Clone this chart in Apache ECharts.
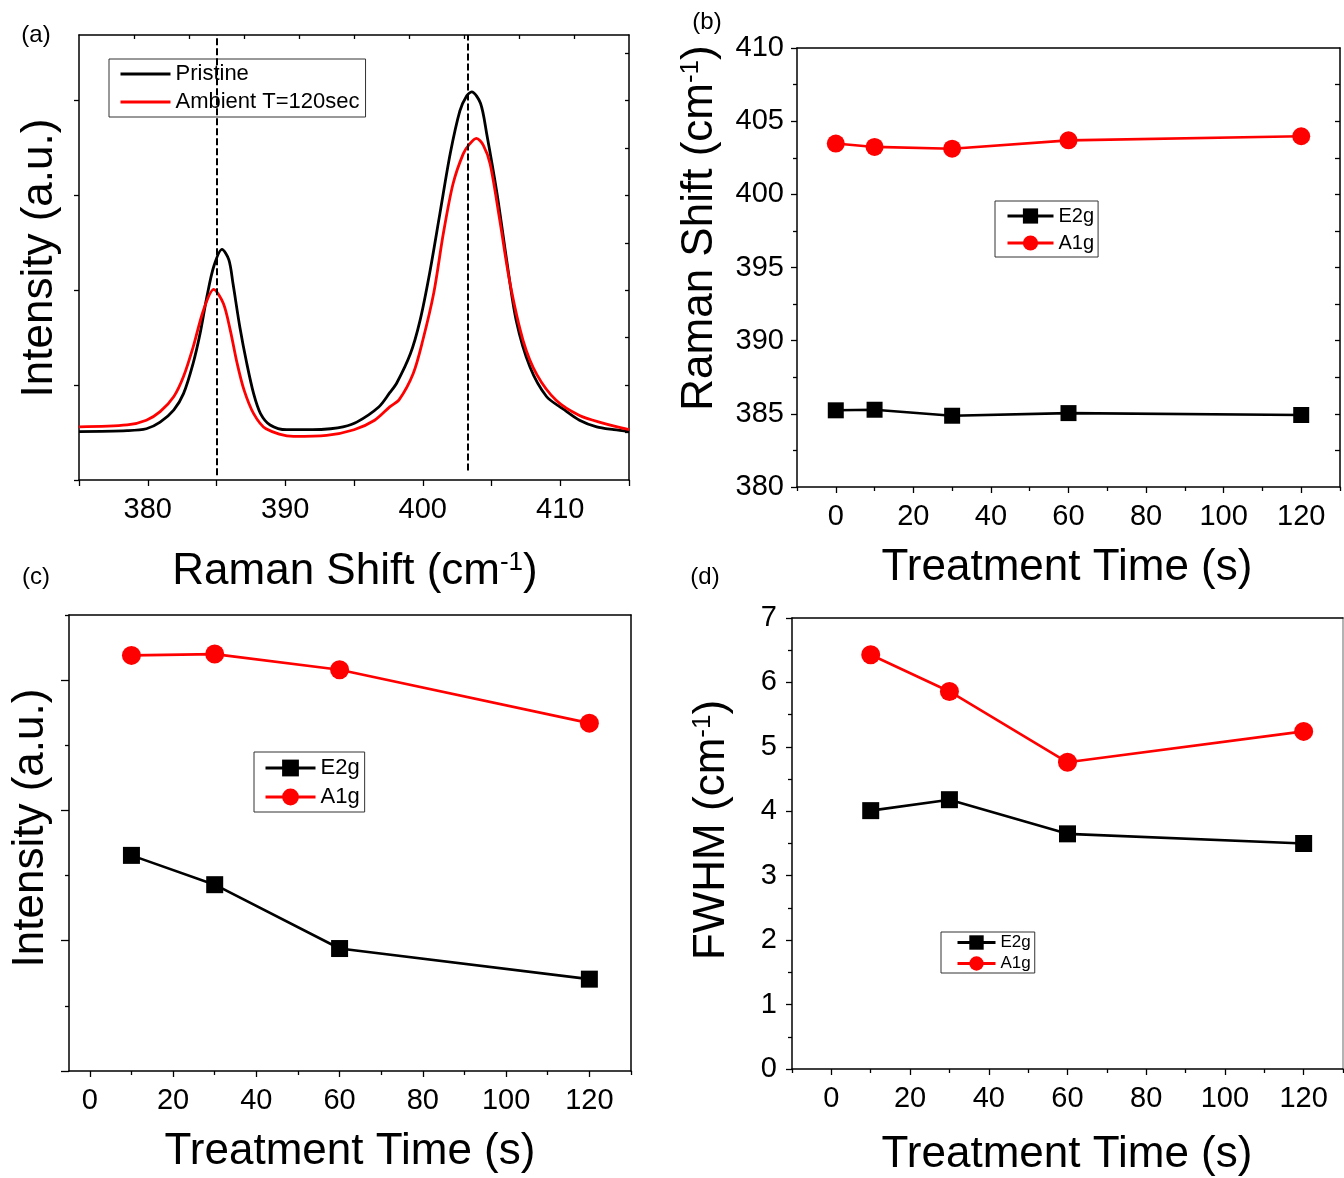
<!DOCTYPE html>
<html><head><meta charset="utf-8">
<script src="https://cdn.jsdelivr.net/npm/echarts@6/dist/echarts.min.js"></script>
<style>html,body{margin:0;padding:0;background:#fff}#c{width:1344px;height:1178px}</style>
</head><body><div id="c"></div><script>
// ---------- Panel (a): Raman spectra ----------
const pristineShift = [375.0,378.5,379.9,380.9,381.9,382.6,383.3,383.8,384.3,384.8,385.4,385.9,386.2,386.7,387.2,387.7,388.2,388.9,390.1,392.0,393.3,394.2,395.2,396.8,397.6,398.1,399.1,399.8,400.5,401.25,402.0,402.7,403.2,403.56,404.2,404.65,405.4,406.1,406.8,407.8,409.0,410.2,411.4,412.65,413.9,415.0];
const pristineInt = [0.51,0.52,0.54,0.61,0.74,0.91,1.23,1.54,1.93,2.25,2.43,2.32,2.07,1.61,1.23,0.91,0.70,0.58,0.53,0.53,0.54,0.56,0.61,0.77,0.92,1.02,1.33,1.68,2.18,2.81,3.44,3.89,4.05,4.09,3.97,3.65,3.02,2.32,1.68,1.19,0.88,0.75,0.63,0.56,0.53,0.51];
const ambientShift = [375.0,378.5,379.9,380.9,381.9,382.6,383.3,384.05,384.8,385.5,386.0,386.5,387.0,387.7,388.6,390.6,393.0,395.0,396.5,397.6,398.3,399.3,400.0,400.8,401.5,402.2,402.95,403.4,403.9,404.4,404.9,405.6,406.35,407.3,408.3,409.7,411.4,413.1,415.0];
const ambientInt = [0.56,0.58,0.63,0.72,0.88,1.09,1.40,1.79,2.01,1.86,1.58,1.23,0.95,0.70,0.54,0.46,0.47,0.53,0.63,0.77,0.85,1.12,1.47,1.97,2.60,3.12,3.44,3.54,3.60,3.53,3.33,2.74,2.07,1.47,1.11,0.84,0.68,0.60,0.53];
const peakLines = [385.0, 403.3];
const peakLineBottom = [0.05, 0.10];
const ramanTicks = [375,380,385,390,395,400,405,410,415];
const ramanLabels = [380,390,400,410];
const ramanTopTicks = [379,383,387,391,395,399,403,407,411];
const intensityTicksA = [0,1,2,3,4];
const intensityRightTicksA = [0.5,1,1.5,2,2.5,3,3.5,4,4.5];

// ---------- Panel (b): Raman shift vs time ----------
const timesB = [0,10,30,60,120];
const shiftE2g = [385.24,385.28,384.87,385.05,384.92];
const shiftA1g = [403.47,403.24,403.12,403.69,403.97];
const shiftTicks = [380,385,390,395,400,405,410];
const shiftMinorTicks = [382.5,387.5,392.5,397.5,402.5,407.5];
const shiftRightTicks = [382.5,385,387.5,390,392.5,395,397.5,400,402.5,405,407.5];

// ---------- Panels (c),(d): intensity and FWHM vs time ----------
const timesCD = [10,30,60,120];
const intensityE2g = [1.655,1.43,0.94,0.705];
const intensityA1g = [3.19,3.20,3.08,2.67];
const fwhmE2g = [4.01,4.18,3.65,3.50];
const fwhmA1g = [6.43,5.86,4.76,5.24];
const intensityTicksC = [0,1,2,3];
const intensityMinorC = [0.5,1.5,2.5,3.5];
const fwhmTicks = [0,1,2,3,4,5,6,7];
const fwhmMinor = [0.5,1.5,2.5,3.5,4.5,5.5,6.5];

const timeTicks = [0,20,40,60,80,100,120];
const timeMinorBD = [-10,10,30,50,70,90,110,130];
const timeMinorC = [10,30,50,70,90,110,130];

const FONT = "'Liberation Sans', Arial, Helvetica, sans-serif";
const chart = echarts.init(document.getElementById('c'), null, {renderer: 'canvas'});

function ax(o) {
  return {
    type: 'value', gridIndex: o.grid, min: o.min, max: o.max, position: o.position,
    axisLine: {show: o.line !== false, onZero: false, lineStyle: {color: o.lineColor || '#000', width: 1.5}},
    axisTick: {show: !!o.ticks, inside: !!o.inside, length: o.tickLen || 6, customValues: o.ticks || [],
               lineStyle: {color: '#000', width: 1.3}},
    axisLabel: {show: !!o.labels, customValues: o.labels || [], fontSize: 29, color: '#000',
                fontFamily: FONT, margin: o.margin || 14},
    minorTick: {show: false}, splitLine: {show: false}, splitArea: {show: false},
    axisPointer: {show: false}, silent: true
  };
}

const xAxes = [
  // (a)
  ax({grid:0, min:375, max:415, position:'bottom', ticks:ramanTicks, labels:ramanLabels, margin:15}),
  ax({grid:0, min:375, max:415, position:'top', ticks:ramanTopTicks, inside:true, tickLen:4}),
  // (b)
  ax({grid:1, min:-10, max:130, position:'bottom', ticks:timeTicks, labels:timeTicks, margin:15}),
  ax({grid:1, min:-10, max:130, position:'bottom', line:false, ticks:timeMinorBD, tickLen:4}),
  ax({grid:1, min:-10, max:130, position:'top'}),
  // (c)
  ax({grid:2, min:-5, max:130, position:'bottom', ticks:timeTicks, labels:timeTicks, margin:15}),
  ax({grid:2, min:-5, max:130, position:'bottom', line:false, ticks:timeMinorC, tickLen:4}),
  ax({grid:2, min:-5, max:130, position:'top'}),
  // (d)
  ax({grid:3, min:-10, max:130, position:'bottom', ticks:timeTicks, labels:timeTicks, margin:15}),
  ax({grid:3, min:-10, max:130, position:'bottom', line:false, ticks:timeMinorBD, tickLen:4}),
  ax({grid:3, min:-10, max:130, position:'top'})
];
const yAxes = [
  // (a)
  ax({grid:0, min:0, max:4.69, position:'left', ticks:intensityTicksA, tickLen:5}),
  ax({grid:0, min:0, max:4.69, position:'right', ticks:intensityRightTicksA, inside:true, tickLen:4}),
  // (b)
  ax({grid:1, min:380, max:410, position:'left', ticks:shiftTicks, labels:shiftTicks, margin:13}),
  ax({grid:1, min:380, max:410, position:'left', line:false, ticks:shiftMinorTicks, tickLen:4}),
  ax({grid:1, min:380, max:410, position:'right', ticks:shiftRightTicks, inside:true, tickLen:5}),
  // (c)
  ax({grid:2, min:0, max:3.5, position:'left', ticks:intensityTicksC, tickLen:8}),
  ax({grid:2, min:0, max:3.5, position:'left', line:false, ticks:intensityMinorC, tickLen:4}),
  ax({grid:2, min:0, max:3.5, position:'right'}),
  // (d)
  ax({grid:3, min:0, max:7, position:'left', ticks:fwhmTicks, labels:fwhmTicks, margin:15}),
  ax({grid:3, min:0, max:7, position:'left', line:false, ticks:fwhmMinor, tickLen:4}),
  ax({grid:3, min:0, max:7, position:'right', lineColor:'#9a9a9a'})
];

const zip = (xs, ys) => xs.map((x, i) => [x, ys[i]]);

function ptSeries(name, xi, yi, xs, ys, color, symbol, size) {
  return {
    type: 'line', name, xAxisIndex: xi, yAxisIndex: yi, data: zip(xs, ys),
    symbol, symbolSize: size, showSymbol: true,
    lineStyle: {color, width: 2.6}, itemStyle: {color, borderWidth: 0},
    emphasis: {disabled: true}, animation: false, z: 3
  };
}

const series = [
  {type:'line', name:'Pristine', xAxisIndex:0, yAxisIndex:0, data: zip(pristineShift, pristineInt),
   smooth:0.3, symbol:'none', lineStyle:{color:'#000', width:2.8}, itemStyle:{color:'#000'},
   emphasis:{disabled:true}, animation:false, z:2},
  {type:'line', name:'Ambient T=120sec', xAxisIndex:0, yAxisIndex:0, data: zip(ambientShift, ambientInt),
   smooth:0.3, symbol:'none', lineStyle:{color:'#ff0000', width:2.8}, itemStyle:{color:'#ff0000'},
   emphasis:{disabled:true}, animation:false, z:3,
   markLine:{silent:true, symbol:['none','none'], animation:false, label:{show:false},
     lineStyle:{color:'#000', width:2, type:[7,3]},
     emphasis:{disabled:true},
     data: peakLines.map((x, i) => [{coord:[x, peakLineBottom[i]]}, {coord:[x, 4.69]}])}},
  ptSeries('E2g', 2, 2, timesB, shiftE2g, '#000', 'rect', 16),
  ptSeries('A1g', 2, 2, timesB, shiftA1g, '#ff0000', 'circle', 18),
  ptSeries('E2g', 5, 5, timesCD, intensityE2g, '#000', 'rect', 17),
  ptSeries('A1g', 5, 5, timesCD, intensityA1g, '#ff0000', 'circle', 19),
  ptSeries('E2g', 8, 8, timesCD, fwhmE2g, '#000', 'rect', 17),
  ptSeries('A1g', 8, 8, timesCD, fwhmA1g, '#ff0000', 'circle', 19)
];

function legend(names, left, top, o) {
  const l = {
    data: names, orient: 'vertical', left, top, padding: o.padding, itemGap: o.gap,
    itemWidth: o.w, itemHeight: o.h, borderColor: '#333', borderWidth: 1,
    backgroundColor: 'transparent', selectedMode: false,
    textStyle: {fontSize: o.fs, color: '#000', fontFamily: FONT},
    lineStyle: {width: 3}
  };
  if (o.noSymbol) l.itemStyle = {opacity: 0};
  return l;
}

function txt(text, x, y, fs, rot, supSize) {
  return {
    type: 'text', x, y, rotation: rot ? Math.PI / 2 : 0, silent: true,
    style: {
      text, fill: '#000', fontSize: fs, fontFamily: FONT,
      align: 'center', verticalAlign: 'middle', textAlign: 'center', textVerticalAlign: 'middle',
      rich: {sup: {fontSize: supSize || 26, fontFamily: FONT, fill: '#000', verticalAlign: 'top'}}
    }
  };
}

const option = {
  animation: false,
  backgroundColor: '#fff',
  textStyle: {fontFamily: FONT},
  grid: [
    {left: 79, top: 35, width: 550, height: 445, outerBoundsMode: 'none', containLabel: false},
    {left: 797, top: 48, width: 543, height: 439, outerBoundsMode: 'none', containLabel: false},
    {left: 69, top: 615, width: 562, height: 456, outerBoundsMode: 'none', containLabel: false},
    {left: 792, top: 618, width: 551, height: 451, outerBoundsMode: 'none', containLabel: false}
  ],
  xAxis: xAxes,
  yAxis: yAxes,
  legend: [
    legend(['Pristine', 'Ambient T=120sec'], 109, 59, {padding:[4,6,4,10], gap:6, w:50, h:14, fs:22, noSymbol:true}),
    legend(['E2g', 'A1g'], 995, 201, {padding:[5,4,4,11], gap:7, w:46, h:19, fs:20}),
    legend(['E2g', 'A1g'], 254, 752, {padding:[5,5,4,10], gap:7, w:50, h:21, fs:22}),
    legend(['E2g', 'A1g'], 941, 932, {padding:[2,4,1,15], gap:4, w:38, h:18, fs:17})
  ],
  graphic: [
    txt('(a)', 36, 35, 24),
    txt('(b)', 707, 22, 24),
    txt('(c)', 36, 577, 24),
    txt('(d)', 705, 577, 24),
    txt('Raman Shift (cm{sup|-1})', 355, 572, 44, false),
    txt('Intensity (a.u.)', 40, 258, 44, true),
    txt('Treatment Time (s)', 1067, 568, 44, false),
    txt('Raman Shift (cm{sup|-1})', 700, 228, 44, true),
    txt('Treatment Time (s)', 350, 1152, 44, false),
    txt('Intensity (a.u.)', 31, 828, 44, true),
    txt('Treatment Time (s)', 1067, 1155, 44, false),
    txt('FWHM (cm{sup|-1})', 712, 830, 44, true)
  ],
  series
};
chart.setOption(option);
</script></body></html>
